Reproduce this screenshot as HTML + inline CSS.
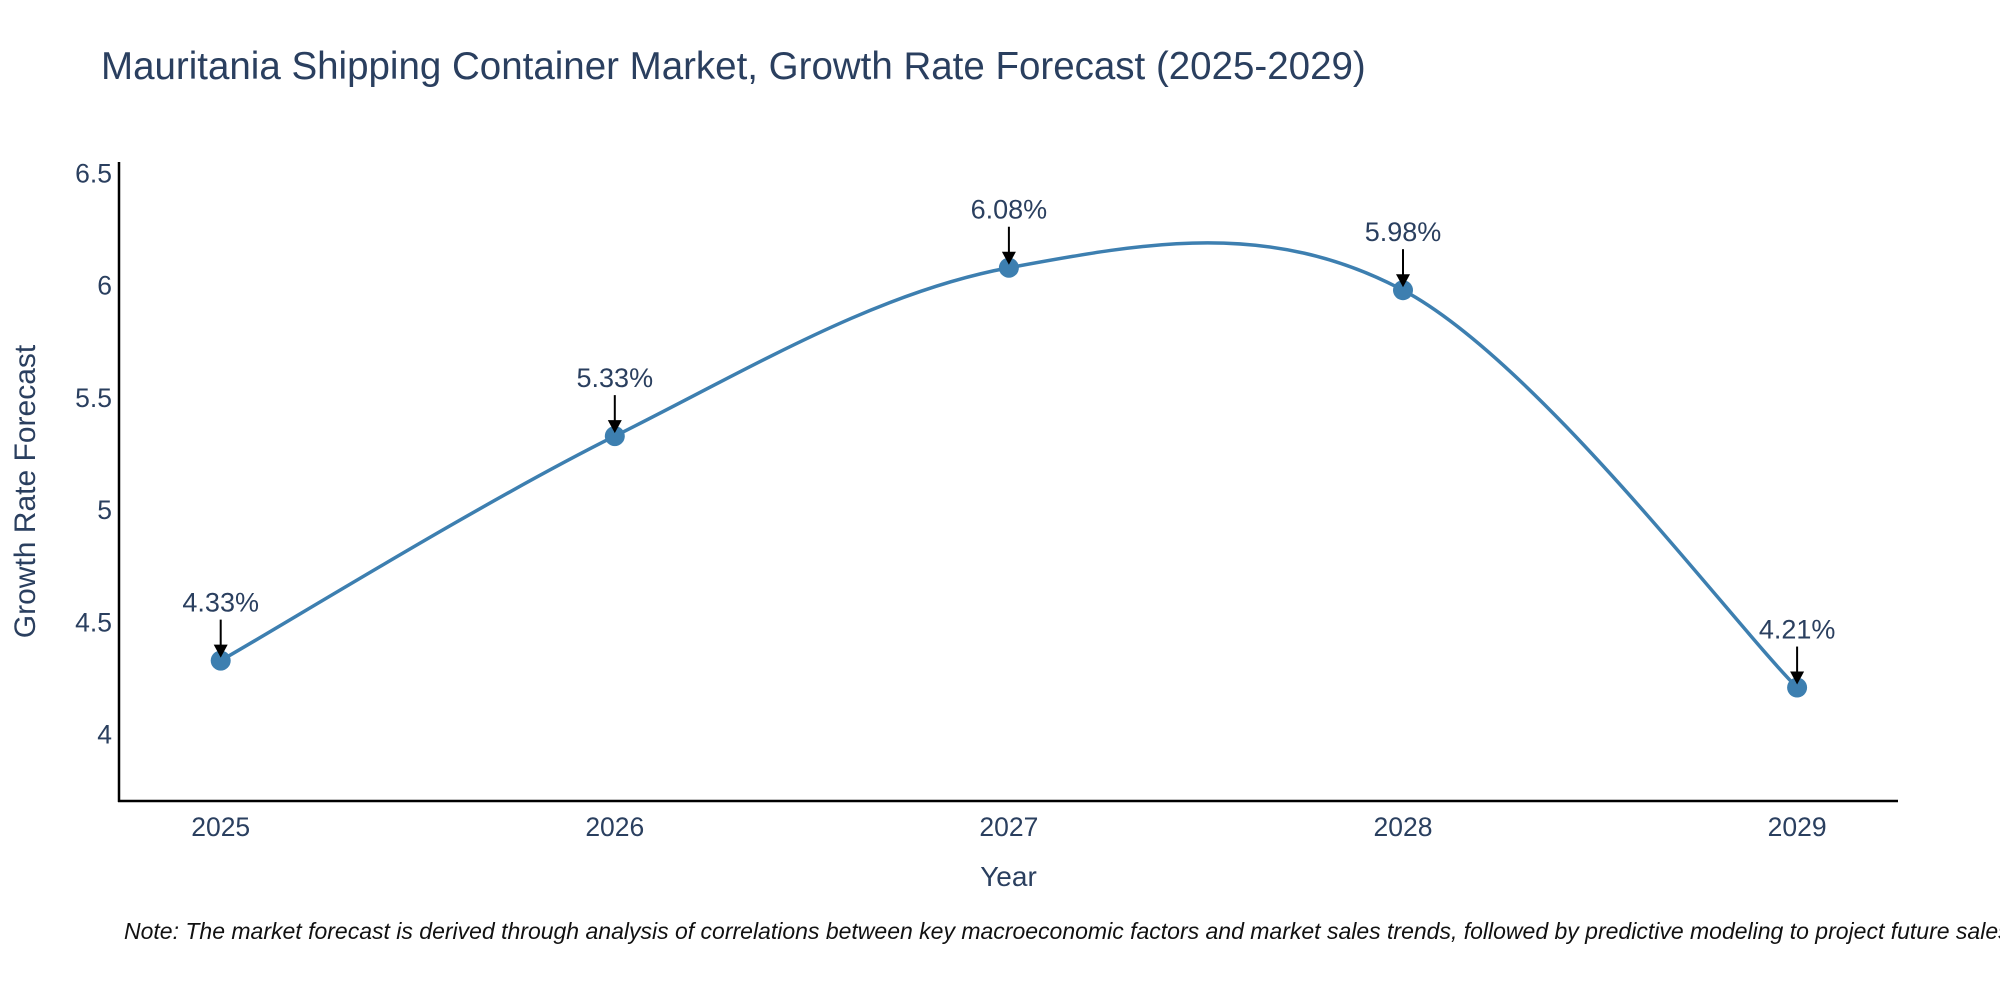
<!DOCTYPE html>
<html><head><meta charset="utf-8"><style>
body{margin:0;background:#fff;overflow:hidden;}
svg{display:block;font-family:"Liberation Sans",sans-serif;}
</style></head><body>
<svg id="chart" width="2000" height="1000">
<text x="101" y="79" font-size="38.5" fill="#2a3f5f">Mauritania Shipping Container Market, Growth Rate Forecast (2025-2029)</text>
<g id="axes"></g>
<g id="series"></g>
<text x="124" y="939" font-size="23" font-style="italic" fill="#111">Note: The market forecast is derived through analysis of correlations between key macroeconomic factors and market sales trends, followed by predictive modeling to project future sales.</text>
</svg>
<script>
const years = [2025, 2026, 2027, 2028, 2029];
const values = [4.33, 5.33, 6.08, 5.98, 4.21];
const labels = ["4.33%", "5.33%", "6.08%", "5.98%", "4.21%"];
const yTicks = [4, 4.5, 5, 5.5, 6, 6.5];
const yTickLabels = ["4", "4.5", "5", "5.5", "6", "6.5"];

const NS = "http://www.w3.org/2000/svg";
const L = 119, R = 1898, T = 162, B = 801;
const X = v => 220.7 + (v - 2025) * 394.1;
const Y = v => 734.7 - (v - 4) * 224.5;
function mk(tag, attrs, parent) {
  const e = document.createElementNS(NS, tag);
  for (const k in attrs) e.setAttribute(k, attrs[k]);
  parent.appendChild(e);
  return e;
}
const axes = document.getElementById("axes");
const series = document.getElementById("series");

const yAxis = mk("line", {x1: L, y1: T, x2: L, y2: B + 1, stroke: "#000", "stroke-width": 2.5}, axes);


const xAxis = mk("line", {x1: L - 1, y1: B, x2: R, y2: B, stroke: "#000", "stroke-width": 2.5}, axes);



yTicks.forEach((v, i) => {
  const t = mk("text", {x: 112, y: Y(v) + 9, "text-anchor": "end", "font-size": 26.5, fill: "#2a3f5f"}, axes);
  t.textContent = yTickLabels[i];
  
  
});
years.forEach(v => {
  const t = mk("text", {x: X(v), y: 836, "text-anchor": "middle", "font-size": 26.5, fill: "#2a3f5f"}, axes);
  t.textContent = String(v);
  
  
});
const xt = mk("text", {x: (L + R) / 2, y: 886, "text-anchor": "middle", "font-size": 28, fill: "#2a3f5f"}, axes);
xt.textContent = "Year";


const yt = mk("text", {x: 0, y: 0, "text-anchor": "middle", "font-size": 30, fill: "#2a3f5f", transform: "translate(35," + ((T + B) / 2 + 10) + ") rotate(-90)"}, axes);
yt.textContent = "Growth Rate Forecast";



const pts = years.map((y, i) => [X(y), Y(values[i])]);
let d = "M" + pts[0][0] + "," + pts[0][1];
const s = 0.17;
for (let i = 0; i < pts.length - 1; i++) {
  const p0 = pts[Math.max(0, i - 1)], p1 = pts[i], p2 = pts[i + 1], p3 = pts[Math.min(pts.length - 1, i + 2)];
  const c1 = [p1[0] + (p2[0] - p0[0]) * s, p1[1] + (p2[1] - p0[1]) * s];
  const c2 = [p2[0] - (p3[0] - p1[0]) * s, p2[1] - (p3[1] - p1[1]) * s];
  d += " C" + c1 + " " + c2 + " " + p2;
}
const line = mk("path", {d: d, fill: "none", stroke: "#3d7fb0", "stroke-width": 3.5}, series);



pts.forEach((p, i) => {
  const c = mk("circle", {cx: p[0], cy: p[1], r: 10, fill: "#3d7fb0"}, series);
  
  
  const a = mk("line", {x1: p[0], y1: p[1] - 41, x2: p[0], y2: p[1] - 14, stroke: "#000", "stroke-width": 2}, series);
  
  
  const h = mk("polygon", {points: (p[0] - 7) + "," + (p[1] - 16) + " " + (p[0] + 7) + "," + (p[1] - 16) + " " + p[0] + "," + (p[1] - 3), fill: "#000"}, series);
  
  
  const t = mk("text", {x: p[0], y: p[1] - 49, "text-anchor": "middle", "font-size": 27, fill: "#2a3f5f"}, series);
  t.textContent = labels[i];
  
  
});
</script>
</body></html>
